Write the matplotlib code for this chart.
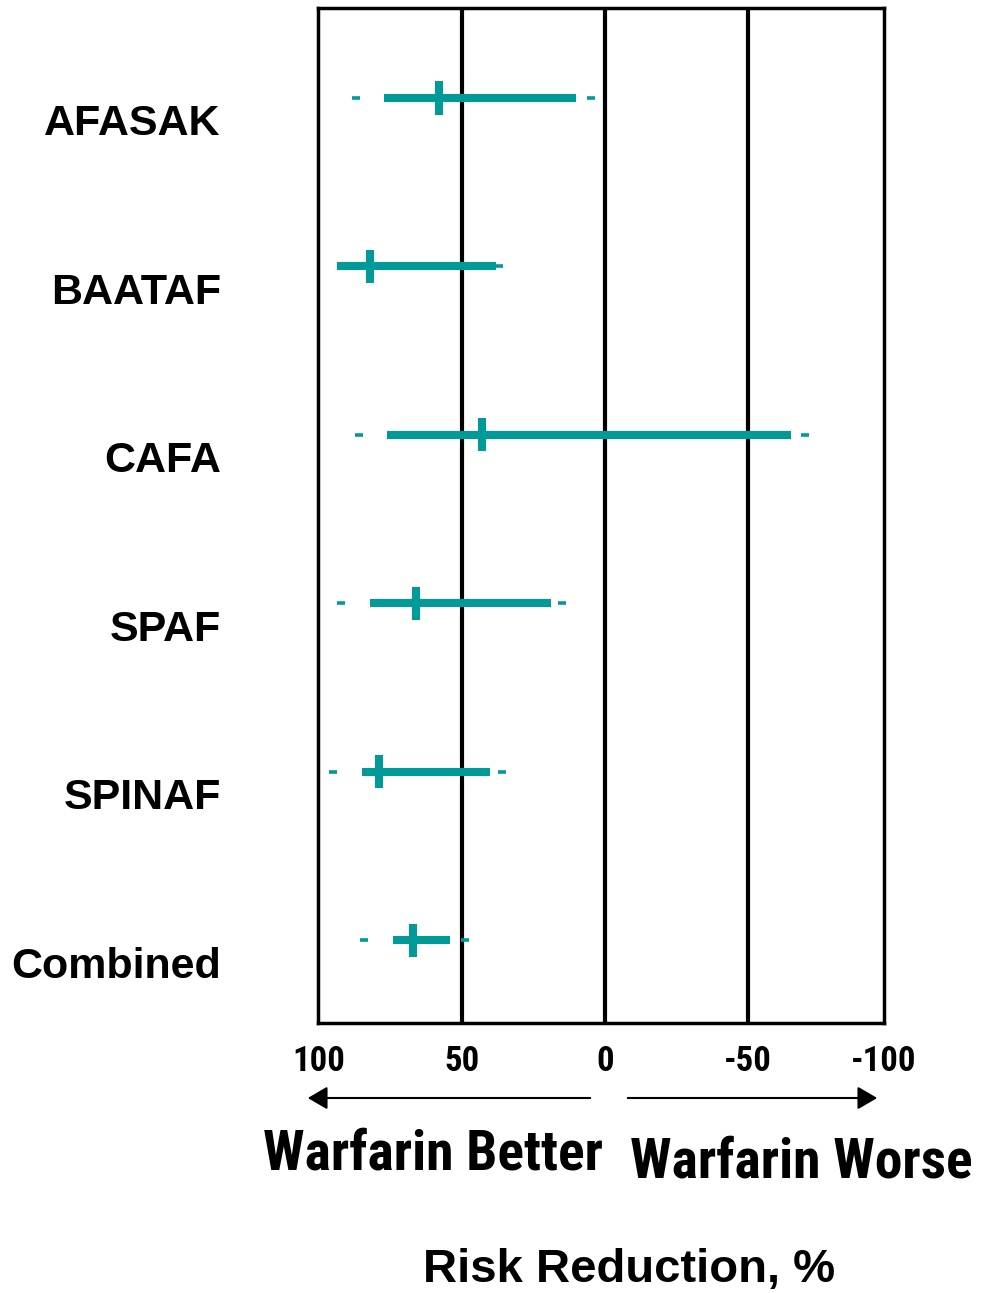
import matplotlib
matplotlib.use('Agg')
import matplotlib.pyplot as plt
from matplotlib import font_manager as fm
from matplotlib.patches import FancyArrowPatch
import numpy as np

plt.rcParams['font.family'] = ['Liberation Sans', 'DejaVu Sans']

# trial data, risk reduction in %
studies = ['AFASAK', 'BAATAF', 'CAFA', 'SPAF', 'SPINAF', 'Combined']
point_est = [58, 82, 43, 66, 79, 67]
ci_left = [77, 93.5, 76, 82, 85, 74]
ci_right = [10, 38, -65, 19, 40, 54]
dash_left = [87, np.nan, 86, 92, 95, 84]
dash_right = [5, 37, -70, 15, 36, 49]

tick_pos = [100, 50, 0, -50, -97.4]
tick_lab = ['100', '50', '0', '-50', '-100']

teal = '#009B98'

# look for a narrow bold face for the "Warfarin Better/Worse" captions
narrow = None
for f in fm.fontManager.ttflist:
    nm = f.name.lower()
    if ('narrow' in nm or 'condensed' in nm or f.stretch in ('condensed', 'semi-condensed')) \
            and (f.weight in ('bold', 700) or f.weight == 700):
        narrow = f.name
        if 'liberation' in nm or 'arial' in nm:
            break
if narrow:
    cap_fam, cap_size, tick_size = [narrow, 'DejaVu Sans'], 40, 25
else:
    cap_fam, cap_size, tick_size = ['Liberation Sans', 'DejaVu Sans'], 33, 22

fig = plt.figure(figsize=(9.95, 12.93), dpi=100)
ax = fig.add_axes([0.3196, 0.2088, 0.5688, 0.785])

rows = np.arange(len(studies))
for y, p, lo, hi, dl, dr in zip(rows, point_est, ci_left, ci_right, dash_left, dash_right):
    ax.plot([lo, hi], [y, y], color=teal, lw=5.8, solid_capstyle='butt', zorder=3)
    ax.plot([p, p], [y - 0.098, y + 0.098], color=teal, lw=5.8, solid_capstyle='butt', zorder=4)
    for d in (dl, dr):
        if not np.isnan(d):
            ax.plot([d + 1.4, d - 1.4], [y, y], color=teal, lw=2.6, solid_capstyle='butt', zorder=3)

for xv in (50, 0, -50):
    ax.axvline(xv, color='black', lw=3, zorder=2)

ax.set_xlim(100.2, -97)
ax.set_ylim(5.49, -0.534)
for s in ax.spines.values():
    s.set_linewidth(2.5)

ax.set_xticks(tick_pos)
ax.set_xticklabels(tick_lab, fontsize=tick_size, fontweight='bold', family=cap_fam)
ax.set_yticks(rows + 0.13)
ax.set_yticklabels(studies, fontsize=31, fontweight='bold')
ax.tick_params(axis='x', length=0, pad=16)
ax.tick_params(axis='y', length=0, pad=70)

W, H = 995, 1293
def fx(px): return px / W
def fy(py): return 1 - py / H

for x0, x1 in ((593, 305), (625, 880)):
    arr = FancyArrowPatch((fx(x0), fy(1098)), (fx(x1), fy(1098)), transform=fig.transFigure,
                          arrowstyle='-|>,head_length=0.6,head_width=0.35', mutation_scale=20,
                          color='black', lw=1.5)
    fig.patches.append(arr)

fig.text(fx(433), fy(1155), 'Warfarin Better', ha='center', va='center',
         fontsize=cap_size, fontweight='bold', family=cap_fam)
fig.text(fx(801), fy(1162), 'Warfarin Worse', ha='center', va='center',
         fontsize=cap_size, fontweight='bold', family=cap_fam)
fig.text(fx(629), fy(1270), 'Risk Reduction, %', ha='center', va='center',
         fontsize=34, fontweight='bold')

fig.savefig('out.png', dpi=100)
